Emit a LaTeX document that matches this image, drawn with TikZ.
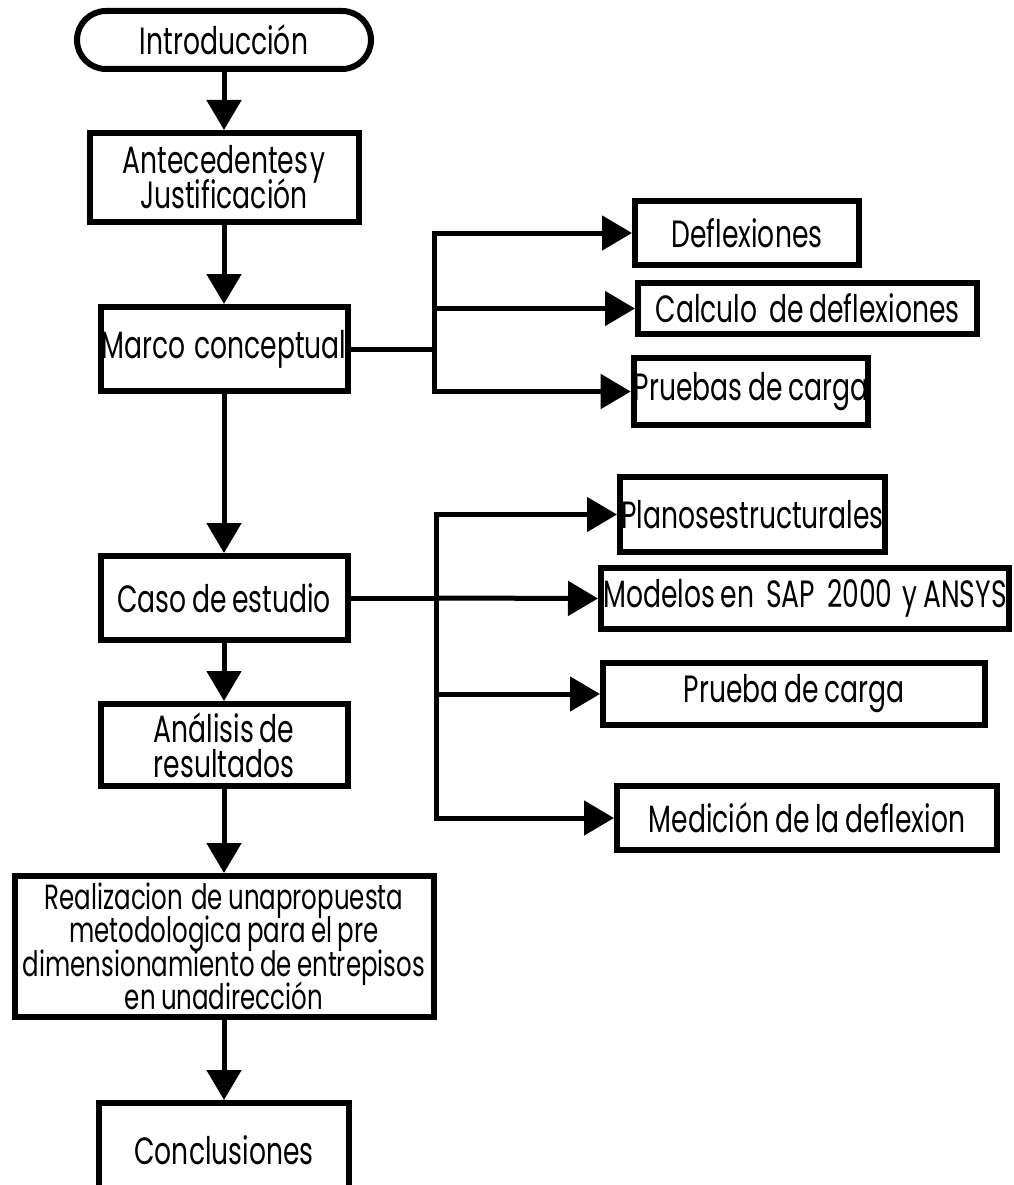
\documentclass[tikz,border=0pt]{standalone}
\usepackage{fontspec}
\setmainfont[FakeStretch=0.7, WordSpace=0.8]{Poppins}
\usetikzlibrary{arrows.meta,shapes.misc}
\newcommand{\boxfont}{\fontsize{38}{35}\selectfont\lineskiplimit=-60pt\relax}
\newcommand{\smallboxfont}{\fontsize{35}{33.5}\selectfont\lineskiplimit=-60pt\relax}
\begin{document}
\begin{tikzpicture}[x=1pt,y=-1pt,
  box/.style={draw, line width=6pt, inner sep=0pt, align=center, font=\boxfont},
  conn/.style={line width=5pt, line cap=rect},
  arr/.style={line width=5pt, -{Triangle[length=30pt,width=34pt]}},
]
\useasboundingbox (0,0) rectangle (1013,1185);
% left column
\node[box, rounded rectangle, minimum width=294pt, minimum height=58pt] (intro) at (224,40) {Introducción};
\node[box, minimum width=269pt, minimum height=89pt] (ante) at (224,177.5) {Antecedentes\hspace{2pt}y\\Justificación};
\node[box, minimum width=247pt, minimum height=84pt] (marco) at (224,349) {Marco\hspace{9pt}conceptual};
\node[box, minimum width=247pt, minimum height=84pt] (caso) at (224,598) {Caso de estudio};
\node[box, minimum width=247pt, minimum height=82pt] (anal) at (224,745) {Análisis de\\resultados};
\node[box, font=\smallboxfont, minimum width=419pt, minimum height=141pt] (real) at (224,946.5) {Realizacion\hspace{8pt}de unapropuesta\\metodologica para el pre\\dimensionamiento de entrepisos\\en unadirección};
\node[box, minimum width=250pt, minimum height=94pt] (concl) at (224,1150) {Conclusiones};
% right column
\node[box, minimum width=224pt, minimum height=64pt] (defl) at (747,233) {Deflexiones};
\node[box, minimum width=339pt, minimum height=51pt] (calc) at (807.5,308.5) {Calculo\hspace{12pt}de deflexiones};
\node[box, minimum width=232pt, minimum height=67pt] (prue) at (751,391.5) {Pruebas de carga};
\node[box, minimum width=265pt, minimum height=75pt] (planos) at (752.5,514.5) {Planosestructurales};
\node[box, minimum width=408pt, minimum height=61pt] (model) at (805,598.5) {Modelos en\hspace{12pt}SAP\hspace{12pt}2000\hspace{10pt}y ANSYS};
\node[box, minimum width=382pt, minimum height=62pt] (prueba) at (794,694) {Prueba de carga};
\node[box, minimum width=380pt, minimum height=64pt] (medic) at (807,818) {Medición de la deflexion};
% main flow
\draw[arr] (intro) -- (ante);
\draw[arr] (ante) -- (marco);
\draw[arr] (marco) -- (caso);
\draw[arr] (caso) -- (anal);
\draw[arr] (anal) -- (real);
\draw[arr] (real) -- (concl);
% branch 1
\coordinate (j1) at (434,349);
\draw[conn] (marco.east) -- (j1);
\draw[conn] (defl.west -| j1) -- (prue.west -| j1);
\draw[arr] (defl.west -| j1) -- (defl.west);
\draw[arr] (calc.west -| j1) -- (calc.west);
\draw[arr] (prue.west -| j1) -- (prue.west);
% branch 2
\coordinate (j2) at (436,598);
\draw[conn] (caso.east) -- (j2);
\draw[conn] (planos.west -| j2) -- (medic.west -| j2);
\draw[arr] (planos.west -| j2) -- (planos.west);
\draw[arr] (j2) -- (model.west);
\draw[arr] (prueba.west -| j2) -- (prueba.west);
\draw[arr] (medic.west -| j2) -- (medic.west);
\end{tikzpicture}
\end{document}
